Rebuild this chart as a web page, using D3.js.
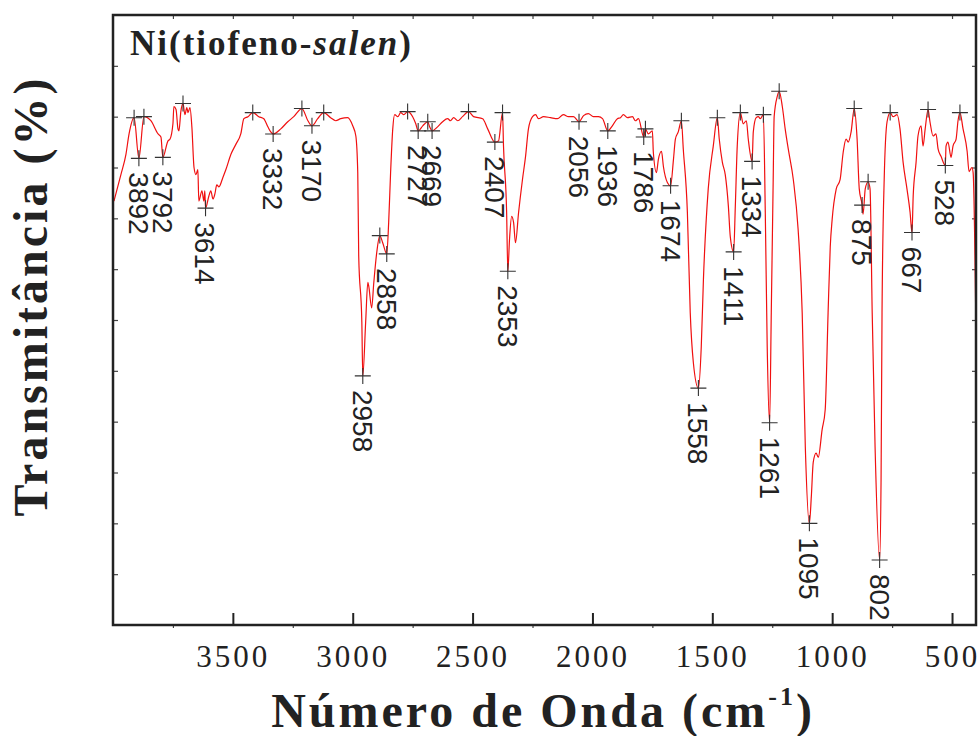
<!DOCTYPE html>
<html>
<head>
<meta charset="utf-8">
<script src="https://cdn.jsdelivr.net/npm/d3@7"></script>
<style>
  body { margin: 0; background: #fff; }
  .serif { font-family: "Liberation Serif", "Times New Roman", Times, serif; }
  .sans { font-family: "Liberation Sans", Arial, Helvetica, sans-serif; }
</style>
</head>
<body>
<div id="chart"></div>
<script>
// spectrum (cm-1, transmittance in arbitrary %)
const waveNumbers = [
  3996, 3967, 3946, 3933, 3912, 3892, 3871, 3842, 3812, 3800, 3792, 3771, 3762, 3750, 3746, 3737, 3729, 3725, 3717, 3708,
  3700, 3692, 3687, 3679, 3671, 3662, 3654, 3646, 3642, 3629, 3621, 3617, 3614, 3600, 3592, 3583, 3575, 3567, 3558, 3542,
  3529, 3508, 3487, 3467, 3454, 3437, 3417, 3392, 3371, 3354, 3342, 3332, 3300, 3271, 3246, 3212, 3187, 3170, 3146, 3121,
  3092, 3071, 3050, 3021, 3000, 2987, 2979, 2975, 2962, 2958, 2946, 2937, 2933, 2921, 2912, 2900, 2887, 2875, 2858, 2850,
  2842, 2833, 2825, 2812, 2800, 2787, 2771, 2750, 2737, 2727, 2708, 2687, 2679, 2669, 2646, 2625, 2604, 2592, 2579, 2562,
  2542, 2517, 2496, 2458, 2437, 2407, 2392, 2375, 2371, 2358, 2353, 2346, 2337, 2329, 2321, 2308, 2292, 2279, 2267, 2250,
  2237, 2225, 2204, 2175, 2146, 2121, 2100, 2079, 2056, 2037, 2017, 1996, 1975, 1958, 1936, 1917, 1896, 1883, 1871, 1854,
  1833, 1821, 1808, 1786, 1779, 1767, 1750, 1746, 1733, 1725, 1712, 1704, 1687, 1674, 1662, 1654, 1642, 1629, 1621, 1604,
  1592, 1579, 1558, 1546, 1537, 1517, 1496, 1479, 1471, 1458, 1446, 1433, 1425, 1411, 1404, 1396, 1383, 1371, 1358, 1350,
  1334, 1329, 1317, 1308, 1300, 1287, 1279, 1271, 1261, 1254, 1246, 1242, 1229, 1221, 1208, 1196, 1183, 1162, 1142, 1125,
  1112, 1095, 1087, 1079, 1067, 1058, 1042, 1029, 1017, 1008, 1000, 983, 967, 954, 942, 933, 921, 908, 896, 887,
  875, 871, 862, 850, 842, 833, 821, 802, 796, 792, 783, 771, 758, 746, 729, 717, 704, 688, 675, 667,
  662, 650, 642, 629, 621, 612, 600, 592, 579, 567, 558, 546, 528, 525, 517, 504, 496, 483, 475, 467,
  454, 437, 429, 417, 412, 400
];
const transmittance = [
  41.7, 44.3, 46.3, 48.3, 49.9, 45.9, 50.0, 49.6, 48.3, 48.0, 46.0, 47.6, 47.8, 49.3, 51.0, 50.7, 48.8, 48.6, 50.5, 51.3,
  50.2, 50.9, 50.4, 50.9, 49.0, 45.0, 44.3, 44.8, 41.7, 42.7, 41.7, 42.7, 41.0, 42.2, 42.7, 41.9, 42.4, 43.3, 43.1, 44.0,
  44.8, 46.3, 47.3, 48.3, 49.8, 50.0, 50.4, 50.0, 49.8, 49.0, 48.5, 48.3, 48.8, 49.5, 50.0, 50.8, 49.6, 49.1, 49.8, 50.4,
  49.9, 49.6, 49.8, 49.9, 49.1, 48.1, 44.5, 36.3, 29.8, 24.5, 29.8, 33.7, 33.3, 31.2, 33.7, 36.6, 38.3, 37.6, 36.5, 39.6,
  44.5, 48.8, 50.2, 50.0, 50.4, 50.2, 50.5, 50.0, 49.3, 48.6, 49.1, 49.5, 49.0, 48.6, 49.0, 49.5, 49.8, 49.6, 49.9, 49.6,
  50.0, 50.5, 50.0, 49.8, 48.8, 47.5, 47.6, 50.4, 47.1, 40.6, 34.8, 37.9, 40.2, 39.6, 37.6, 40.6, 43.8, 46.1, 48.8, 50.0,
  50.2, 49.8, 50.0, 49.9, 49.8, 50.2, 50.0, 50.0, 49.5, 50.1, 50.3, 50.0, 50.0, 49.8, 48.6, 49.1, 49.8, 49.9, 50.2, 49.9,
  50.0, 49.6, 49.8, 48.0, 48.8, 48.3, 48.6, 46.5, 44.5, 45.8, 46.6, 45.1, 43.5, 43.2, 45.8, 47.8, 48.5, 49.6, 46.8, 40.6,
  30.7, 25.8, 23.3, 27.4, 34.0, 42.9, 47.1, 49.9, 47.8, 45.5, 44.3, 41.2, 38.2, 36.7, 41.2, 47.1, 50.4, 49.3, 49.6, 47.8,
  45.6, 48.5, 49.9, 50.0, 49.8, 50.2, 40.6, 27.4, 19.9, 30.7, 43.8, 50.0, 52.0, 52.5, 51.0, 48.8, 46.8, 43.8, 38.9, 30.7,
  17.5, 10.0, 12.6, 16.0, 16.9, 16.5, 19.2, 21.2, 30.7, 37.2, 39.9, 42.9, 43.8, 46.5, 47.8, 47.5, 48.5, 50.8, 47.8, 42.9,
  41.3, 40.4, 42.9, 43.6, 42.9, 30.7, 17.5, 6.4, 14.3, 30.7, 43.8, 49.5, 50.4, 50.0, 50.2, 48.8, 45.5, 42.9, 40.6, 38.6,
  42.2, 45.5, 48.1, 49.1, 47.1, 48.8, 50.7, 49.5, 48.1, 48.3, 46.8, 46.1, 45.2, 47.1, 47.5, 46.0, 47.1, 47.8, 49.6, 50.4,
  48.8, 46.6, 44.6, 45.0, 44.5, 28.6
];

// labelled band minima and unlabelled maxima picked on the curve
const labelledPeaks = [3892, 3792, 3614, 3332, 3170, 2958, 2858, 2727, 2669, 2407, 2353, 2056,
  1936, 1786, 1674, 1558, 1411, 1334, 1261, 1095, 875, 802, 667, 528];
const maxMarks = [3912, 3871, 3708, 3417, 3212, 3121, 2887, 2771, 2687, 2517, 2375, 1779,
  1629, 1479, 1383, 1287, 1221, 908, 850, 758, 600, 467];

const xMajorTicks = [3500, 3000, 2500, 2000, 1500, 1000, 500];
const xMinorTicks = [3750, 3250, 2750, 2250, 1750, 1250, 750];
const xTopTicks = [3750, 3500, 3250, 3000, 2750, 2500, 2250, 2000, 1750, 1500, 1250, 1000, 750, 500];
const yTicks = [5, 10, 15, 20, 25, 30, 35, 40, 45, 50, 55];

const W = 980, H = 736;
const plot = { left: 113, right: 976, top: 15, bottom: 625 };

const x = d3.scaleLinear().domain([4000, 400]).range([plot.left, plot.right]);
const y = d3.scaleLinear().domain([0, 60]).range([plot.bottom, plot.top]);

const data = waveNumbers.map((w, i) => ({ w: w, t: transmittance[i] }));
const tAt = new Map(data.map(d => [d.w, d.t]));

const svg = d3.select("#chart").append("svg")
  .attr("width", W)
  .attr("height", H);

// axes (ticks only, frame drawn separately)
svg.append("g")
  .attr("transform", `translate(0, ${plot.bottom})`)
  .call(d3.axisBottom(x).tickValues(xMajorTicks).tickFormat(d3.format("d"))
    .tickSizeInner(-12).tickSizeOuter(0).tickPadding(20))
  .call(g => g.select(".domain").remove())
  .call(g => g.selectAll("line").attr("stroke", "#222").attr("stroke-width", 2))
  .call(g => g.selectAll("text")
    .attr("class", "serif")
    .attr("font-family", null)
    .style("font-size", "31px")
    .style("letter-spacing", "3px")
    .attr("fill", "#222"));

svg.append("g")
  .attr("transform", `translate(0, ${plot.bottom})`)
  .call(d3.axisBottom(x).tickValues(xMinorTicks).tickSize(3).tickFormat(""))
  .call(g => g.select(".domain").remove())
  .call(g => g.selectAll("line").attr("stroke", "#444").attr("stroke-width", 1.2));

svg.append("g")
  .attr("transform", `translate(0, ${plot.top})`)
  .call(d3.axisTop(x).tickValues(xTopTicks).tickSize(-4).tickFormat(""))
  .call(g => g.select(".domain").remove())
  .call(g => g.selectAll("line").attr("stroke", "#444").attr("stroke-width", 1.2));

svg.append("g")
  .attr("transform", `translate(${plot.left}, 0)`)
  .call(d3.axisLeft(y).tickValues(yTicks).tickSize(-5).tickFormat(""))
  .call(g => g.select(".domain").remove())
  .call(g => g.selectAll("line").attr("stroke", "#444").attr("stroke-width", 1.2));

svg.append("g")
  .attr("transform", `translate(${plot.right}, 0)`)
  .call(d3.axisRight(y).tickValues(yTicks).tickSize(-4).tickFormat(""))
  .call(g => g.select(".domain").remove())
  .call(g => g.selectAll("line").attr("stroke", "#444").attr("stroke-width", 1.2));

// spectrum
const line = d3.line()
  .x(d => x(d.w))
  .y(d => y(d.t))
  .curve(d3.curveMonotoneX);

svg.append("path")
  .datum(data)
  .attr("fill", "none")
  .attr("stroke", "#f01010")
  .attr("stroke-width", 1.2)
  .attr("d", line);

// cross markers
const marks = labelledPeaks.concat(maxMarks).map(w => ({ w: w, t: tAt.get(w) }));
const cross = svg.append("g")
  .attr("stroke", "#333")
  .attr("stroke-width", 1.1);

cross.selectAll(".cross")
  .data(marks)
  .enter()
  .append("path")
  .attr("class", "cross")
  .attr("d", d => {
    const cx = x(d.w), cy = y(d.t), s = 8;
    return `M${cx - s},${cy}H${cx + s}M${cx},${cy - s}V${cy + s}`;
  });

// rotated band labels
svg.selectAll(".peak-label")
  .data(labelledPeaks)
  .enter()
  .append("text")
  .attr("class", "sans")
  .attr("transform", w => `translate(${x(w)}, ${y(tAt.get(w)) + 14}) rotate(90)`)
  .attr("dy", "0.36em")
  .style("font-size", "28px")
  .attr("fill", "#222")
  .text(w => w);

// frame
svg.append("rect")
  .attr("x", plot.left)
  .attr("y", plot.top)
  .attr("width", plot.right - plot.left)
  .attr("height", plot.bottom - plot.top)
  .attr("fill", "none")
  .attr("stroke", "#222")
  .attr("stroke-width", 2.5);

// sample name
const title = svg.append("text")
  .attr("class", "serif")
  .attr("x", 130)
  .attr("y", 55)
  .style("font-weight", "bold")
  .style("font-size", "35px")
  .style("letter-spacing", "2px")
  .attr("fill", "#222");
title.append("tspan").text("Ni(tiofeno-");
title.append("tspan").style("font-style", "italic").text("salen");
title.append("tspan").text(")");

// axis titles
const xTitle = svg.append("text")
  .attr("class", "serif")
  .attr("x", 543)
  .attr("y", 727)
  .attr("text-anchor", "middle")
  .style("font-weight", "bold")
  .style("font-size", "48px")
  .style("letter-spacing", "3px")
  .attr("fill", "#222");
xTitle.append("tspan").text("Número de Onda (cm");
xTitle.append("tspan").style("font-size", "26px").attr("dy", -22).text("-1");
xTitle.append("tspan").attr("dy", 22).text(")");

svg.append("text")
  .attr("class", "serif")
  .attr("transform", "translate(47, 296) rotate(-90)")
  .attr("text-anchor", "middle")
  .style("font-weight", "bold")
  .style("font-size", "48px")
  .style("letter-spacing", "3px")
  .attr("fill", "#222")
  .text("Transmitância (%)");
</script>
</body>
</html>
